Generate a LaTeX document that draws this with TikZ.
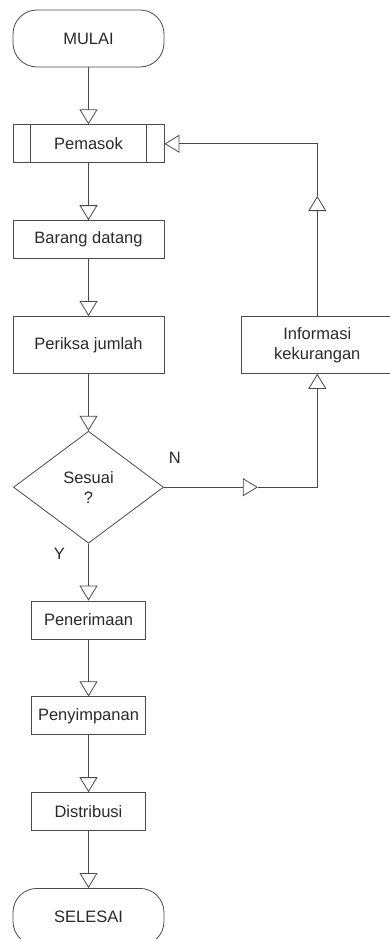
\documentclass[tikz,border=0pt]{standalone}
\usepackage{fontspec}
\setmainfont{Liberation Sans}
\usepackage{tikz}
\usetikzlibrary{positioning,arrows.meta,shapes.geometric,calc}
\definecolor{fcLine}{HTML}{4A4A4A}
\definecolor{fcText}{HTML}{2A2A2A}
\definecolor{fcWhite}{HTML}{FFFFFF}
\tikzset{
  fc-box/.style={
    draw=fcLine, line width=0.8pt, fill=fcWhite, text=fcText,
    font=\fontsize{16.5}{20}\selectfont, align=center,
    inner sep=0pt, minimum width=151pt, minimum height=38pt
  },
  fc-term/.style={fc-box, rounded corners=24pt, minimum height=57pt},
  fc-proc/.style={fc-box},
  fc-small/.style={fc-box, minimum width=114pt},
  fc-dec/.style={fc-box, diamond, minimum width=150pt, minimum height=112pt},
  fc-flow/.style={-{Triangle[open, length=15pt, width=18pt]},
    line width=0.8pt, draw=fcLine},
  fc-line/.style={line width=0.8pt, draw=fcLine},
  fc-label/.style={font=\fontsize{16.5}{20}\selectfont, text=fcText,
    inner sep=0pt}
}
\begin{document}
\begin{tikzpicture}[node distance=57pt]
\useasboundingbox (0,0) rectangle (389pt,-939pt);

% Alur utama
\node[fc-term] (mulai) at (88.5pt,-38.5pt) {MULAI};
\node[fc-proc, below=of mulai] (pemasok) {Pemasok};
\node[fc-proc, below=of pemasok] (barang) {Barang datang};
\node[fc-proc, below=of barang, minimum height=57pt] (periksa) {Periksa jumlah};
\node[fc-dec, below=of periksa] (sesuai) {Sesuai\\?};
\node[fc-small, below=of sesuai] (terima) {Penerimaan};
\node[fc-small, below=of terima] (simpan) {Penyimpanan};
\node[fc-small, below=of simpan] (distr) {Distribusi};
\node[fc-term, below=of distr] (selesai) {SELESAI};

% Garis proses terdefinisi
\draw[fc-line] ([xshift=18pt]pemasok.north west) -- ([xshift=18pt]pemasok.south west);
\draw[fc-line] ([xshift=-18pt]pemasok.north east) -- ([xshift=-18pt]pemasok.south east);

% Umpan balik
\node[fc-box, right=77pt of periksa, minimum height=57pt] (info)
  {Informasi\\ kekurangan};
\coordinate (nTip) at ([xshift=94pt]sesuai.east);
\coordinate (upTip) at ([yshift=120pt]info.north);

% Label
\node[fc-label] (lblN) at ([shift={(11pt,29pt)}]sesuai.east) {N};
\node[fc-label] (lblY) at ([shift={(-29pt,-10pt)}]sesuai.south) {Y};

\draw[fc-flow] (mulai) -- (pemasok);
\draw[fc-flow] (pemasok) -- (barang);
\draw[fc-flow] (barang) -- (periksa);
\draw[fc-flow] (periksa) -- (sesuai);
\draw[fc-flow] (sesuai) -- (terima);
\draw[fc-flow] (terima) -- (simpan);
\draw[fc-flow] (simpan) -- (distr);
\draw[fc-flow] (distr) -- (selesai);
\draw[fc-flow] (sesuai.east) -- (nTip);
\draw[fc-flow] (nTip) -| (info.south);
\draw[fc-flow] (info.north) -- (upTip);
\draw[fc-flow] (upTip) |- (pemasok.east);
\end{tikzpicture}
\end{document}
